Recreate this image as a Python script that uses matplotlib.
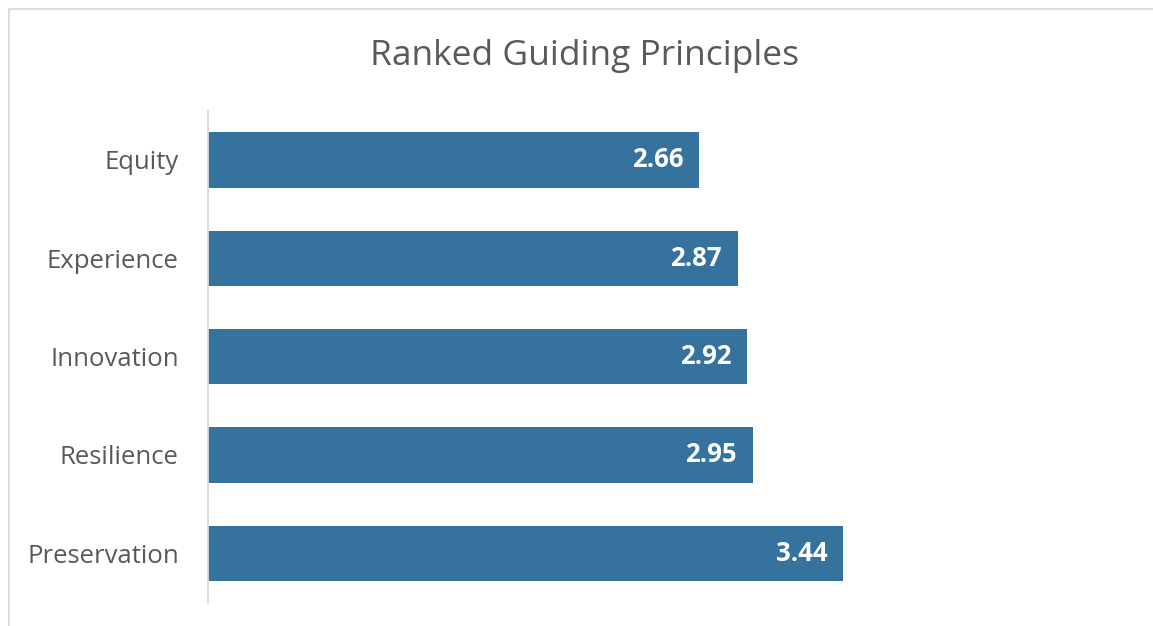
import numpy as np
import matplotlib.pyplot as plt
from matplotlib.patches import Rectangle

# ranking data, top to bottom as shown
principles = ['Equity', 'Experience', 'Innovation', 'Resilience', 'Preservation']
scores = [2.66, 2.87, 2.92, 2.95, 3.44]

bar_color = '#35729E'
text_grey = '#595959'

plt.rcParams['font.family'] = ['Open Sans', 'DejaVu Sans']

fig = plt.figure(figsize=(11.53, 6.26), dpi=100)
W, H = 1153, 626
# plot area in pixels: left 208, right ~1131, top 110.8, bottom 602.5
ax = fig.add_axes([208 / W, 1 - 602.5 / H, (1131 - 208) / W, (602.5 - 110.8) / H])

y = np.arange(len(principles))
ax.barh(y, scores, height=0.565, color=bar_color)
ax.set_ylim(len(principles) - 0.5, -0.5)
ax.set_xlim(0, 5)

for yi, v in zip(y, scores):
    ax.text(v - 0.085, yi, '%.2f' % v, ha='right', va='center',
            color='white', fontsize=18.5, fontweight='bold')

ax.set_yticks(y)
ax.set_yticklabels(principles, fontsize=18.5, color=text_grey)
ax.tick_params(axis='y', length=0, pad=21)
ax.set_xticks([])
for s in ['top', 'right', 'bottom']:
    ax.spines[s].set_visible(False)
ax.spines['left'].set_color('#D9D9D9')
ax.spines['left'].set_linewidth(1.3)

fig.text(585 / W, 1 - 56 / H, 'Ranked Guiding Principles', ha='center', va='center',
         fontsize=25.5, color=text_grey)

# chart frame (only top and left edges fall inside the image)
fig.patches.append(Rectangle((8.5 / W, -0.1), 1.2, 1 - 8.5 / H + 0.1, transform=fig.transFigure,
                             fill=False, edgecolor='#D9D9D9', linewidth=1.3))

plt.savefig('out.png', dpi=100)
